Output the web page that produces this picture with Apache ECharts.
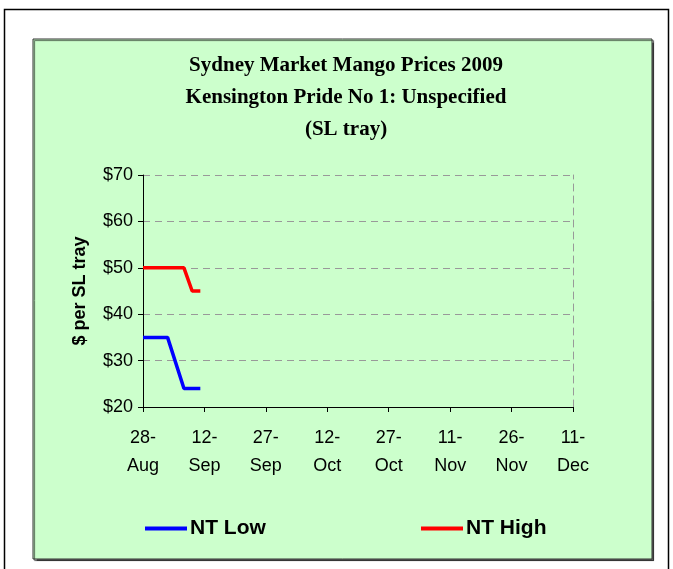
<!DOCTYPE html>
<html>
<head>
<meta charset="utf-8">
<script src="https://cdn.jsdelivr.net/npm/echarts@6/dist/echarts.min.js"></script>
<style>
html,body{margin:0;padding:0;background:#fff;}
#chart{width:673px;height:569px;}
</style>
</head>
<body>
<div id="chart"></div>
<script>
// ---- data ----
const startDate = '2009-08-28';
const lowDates = ['2009-08-28', '2009-09-03', '2009-09-07', '2009-09-11'];
const lowValues = [35, 35, 24, 24];
const highDates = ['2009-08-28', '2009-09-07', '2009-09-09', '2009-09-11'];
const highValues = [50, 50, 45, 45];
const xTickLabels = ['28-\nAug', '12-\nSep', '27-\nSep', '12-\nOct', '27-\nOct', '11-\nNov', '26-\nNov', '11-\nDec'];
const yTickLabels = ['$20', '$30', '$40', '$50', '$60', '$70'];
const seriesNames = ['NT Low', 'NT High'];
const titleLines = ['Sydney Market Mango Prices 2009', 'Kensington Pride No 1: Unspecified', '(SL tray)'];
const yAxisName = '$ per SL tray';

function dayOffset(d) {
  return (Date.parse(d + 'T00:00:00Z') - Date.parse(startDate + 'T00:00:00Z')) / 86400000;
}
const lowData = lowDates.map((d, i) => [dayOffset(d), lowValues[i]]);
const highData = highDates.map((d, i) => [dayOffset(d), highValues[i]]);

const chart = echarts.init(document.getElementById('chart'), null, {renderer: 'canvas'});
const sans = 'Liberation Sans, Arial, sans-serif';

chart.setOption({
  backgroundColor: '#ffffff',
  animation: false,
  graphic: [
    {type: 'rect', z: -10, silent: true,
      shape: {x: 4.5, y: 9.5, width: 664, height: 580},
      style: {fill: '#ffffff', stroke: '#000000', lineWidth: 1.5}},
    {type: 'rect', z: -9, silent: true,
      shape: {x: 33, y: 39, width: 619, height: 520},
      style: {fill: '#CCFFCC', stroke: '#333333', lineWidth: 1,
        shadowColor: 'rgba(0,0,0,0.6)', shadowOffsetX: 1.5, shadowOffsetY: 1.5, shadowBlur: 1}}
  ],
  title: {
    text: titleLines.join('\n'),
    left: 341,
    textAlign: 'center',
    top: 45,
    textStyle: {fontFamily: 'Liberation Serif, Times New Roman, serif', fontWeight: 'bold',
      fontSize: 21, lineHeight: 32, color: '#000'}
  },
  legend: [
    {data: [seriesNames[0]], left: 145, top: 518, padding: 0, itemWidth: 42, itemHeight: 4, icon: 'rect', itemGap: 0,
      textStyle: {fontFamily: sans, fontWeight: 'bold', fontSize: 21, color: '#000', padding: [0, 0, 0, -2]}},
    {data: [seriesNames[1]], left: 421, top: 518, padding: 0, itemWidth: 42, itemHeight: 4, icon: 'rect', itemGap: 0,
      textStyle: {fontFamily: sans, fontWeight: 'bold', fontSize: 21, color: '#000', padding: [0, 0, 0, -2]}}
  ],
  grid: {left: 143, right: 100, top: 175, bottom: 162},
  xAxis: {
    type: 'value', min: 0, max: 105, interval: 15,
    axisLine: {show: true, lineStyle: {color: '#000', width: 1}},
    axisTick: {show: true, length: 5, lineStyle: {color: '#000'}},
    splitLine: {show: false},
    axisLabel: {
      margin: 17, fontFamily: sans, fontSize: 18, color: '#000', lineHeight: 28,
      formatter: v => xTickLabels[Math.round(v / 15)]
    }
  },
  yAxis: [
    {
      type: 'value', min: 20, max: 70, interval: 10,
      name: yAxisName, nameLocation: 'middle', nameGap: 54, nameRotate: 90,
      nameTextStyle: {fontFamily: sans, fontWeight: 'bold', fontSize: 18, color: '#000'},
      axisLine: {show: true, lineStyle: {color: '#000', width: 1}},
      axisTick: {show: true, length: 5, lineStyle: {color: '#000'}},
      splitLine: {show: true, lineStyle: {color: '#999999', type: [7, 5], width: 1}},
      axisLabel: {
        margin: 10, fontFamily: sans, fontSize: 18, color: '#000',
        formatter: v => yTickLabels[Math.round((v - 20) / 10)]
      }
    },
    {
      type: 'value', min: 20, max: 70, interval: 10, position: 'right',
      axisLine: {show: true, lineStyle: {color: '#999999', type: [7, 5], width: 1}},
      axisTick: {show: false}, axisLabel: {show: false}, splitLine: {show: false}
    }
  ],
  series: [
    {name: seriesNames[0], type: 'line', data: lowData, showSymbol: false, symbol: 'none',
      lineStyle: {color: '#0000FF', width: 3.5}, itemStyle: {color: '#0000FF'}, z: 5},
    {name: seriesNames[1], type: 'line', data: highData, showSymbol: false, symbol: 'none',
      lineStyle: {color: '#FF0000', width: 3.5}, itemStyle: {color: '#FF0000'}, z: 5}
  ]
});
</script>
</body>
</html>
